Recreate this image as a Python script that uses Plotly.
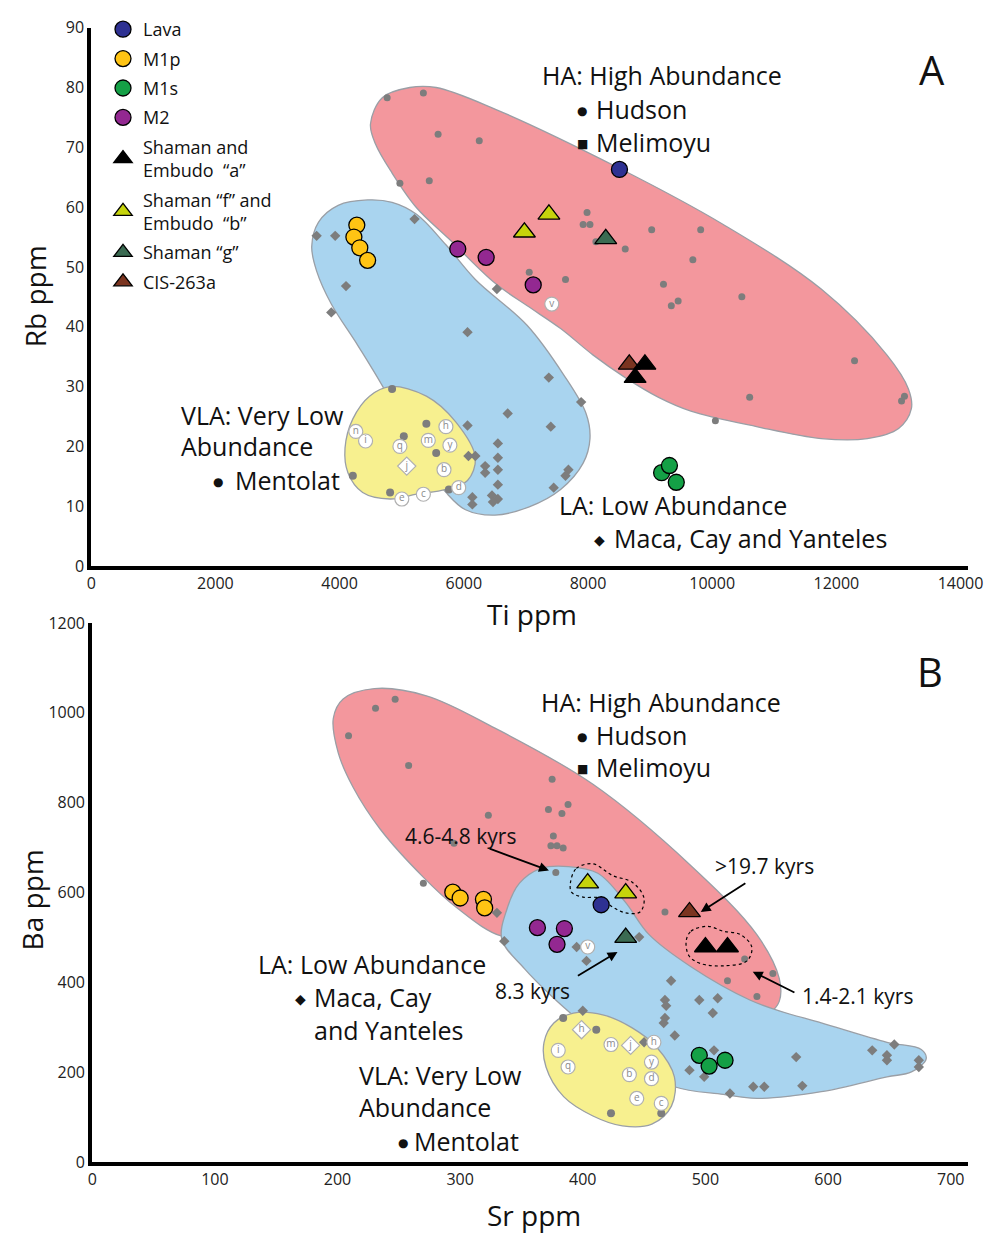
import plotly.graph_objects as go

W, H = 1001, 1243
FONT = "Open Sans"

# ================= Panel A : Ti ppm vs Rb ppm =================
# field envelopes (data units)
a_ha_ti = [4497, 4687, 5129, 5555, 6501, 8505, 10178, 11756, 12813, 13161, 13208, 13003, 12498,
           11756, 10715, 9657, 9137, 8600, 8079, 7559, 7022, 6501, 5760, 5239, 4845, 4576]
a_ha_rb = [73.9, 78.3, 80.0, 80.0, 76.4, 66.5, 57.1, 46.3, 35.3, 29.6, 26.3, 23.0, 21.3,
           21.3, 23.3, 25.9, 28.2, 31.5, 35.3, 39.7, 43.5, 47.3, 54.7, 59.9, 65.7, 70.6]
a_la_ti = [3551, 3661, 3977, 4450, 4845, 5239, 5712, 6186, 7022, 7606, 7969, 8032, 7922, 7559,
           7054, 6501, 6028, 5712, 5239, 4766, 4292, 3866, 3630]
a_la_rb = [53.4, 57.5, 60.3, 61.2, 60.8, 58.8, 53.7, 47.9, 40.2, 32.0, 25.5, 21.3, 17.2, 12.8,
           9.9, 8.5, 9.4, 12.3, 18.9, 28.7, 36.9, 43.8, 49.3]
a_vla_ti = [4813, 5397, 5870, 6186, 6060, 5712, 5239, 4813, 4371, 4134, 4087, 4213, 4482]
a_vla_rb = [30.0, 28.4, 24.1, 18.1, 14.3, 12.8, 12.0, 11.2, 12.3, 15.6, 19.7, 24.6, 28.4]

# reference data points (grey)
a_ha_pts_ti = [4766, 5349, 5586, 6249, 4971, 5444, 7985, 7922, 8032, 9026, 9815, 8600, 8127, 9689,
               9216, 9342, 9452, 10478, 12293, 10604, 10052, 13050, 13097, 7054, 7638]
a_ha_pts_rb = [78.3, 79.1, 72.2, 71.1, 64.0, 64.4, 59.1, 57.1, 57.1, 56.2, 56.2, 53.0, 54.2, 51.2,
               47.1, 43.5, 44.3, 45.0, 34.3, 28.2, 24.3, 27.6, 28.4, 49.1, 47.9]
a_la_pts_ti = [3630, 3929, 5207, 4103, 3866, 6533, 6060, 7369, 6707, 7401, 7890, 6060, 6549, 6549,
               6549, 6549, 6549, 6344, 6344, 7685, 7638, 7448, 6138, 6454, 6470, 6138, 6075, 6186]
a_la_pts_rb = [55.2, 55.2, 58.0, 46.8, 42.4, 46.3, 39.1, 31.5, 25.5, 23.3, 27.4, 23.5, 20.5, 18.1,
               16.1, 13.6, 11.2, 16.7, 15.6, 16.1, 15.1, 13.1, 11.5, 11.8, 10.7, 10.3, 18.4, 18.4]
a_vla_pts_ti = [4845, 5397, 5555, 5034, 4213, 4813, 5760]
a_vla_pts_rb = [29.6, 23.8, 18.9, 21.7, 15.1, 12.3, 12.8]
# labelled Mentolat samples
a_lab_txt = ["n", "i", "q", "m", "h", "y", "j", "b", "d", "e", "c", "v"]
a_lab_ti = [4261, 4418, 4971, 5428, 5712, 5776, 5081, 5681, 5918, 5002, 5349, 7417]
a_lab_rb = [22.5, 20.9, 20.0, 21.0, 23.3, 20.2, 16.7, 16.1, 13.1, 11.2, 12.0, 43.8]
a_lab_sym = ["circle"] * 6 + ["diamond"] + ["circle"] * 5

# study samples
a_lava_ti, a_lava_rb = [8507], [66.3]
a_m1p_ti, a_m1p_rb = [4277, 4230, 4325, 4451], [57.0, 55.0, 53.2, 51.1]
a_m1s_ti, a_m1s_rb = [9186, 9312, 9422], [15.6, 16.8, 14.0]
a_m2_ti, a_m2_rb = [5903, 6360, 7118], [53.0, 51.6, 47.0]
a_sa_ti, a_sa_rb = [8917, 8759], [33.7, 31.5]
a_sf_ti, a_sf_rb = [6976, 7371], [55.8, 58.8]
a_sg_ti, a_sg_rb = [8286], [54.7]
a_cis_ti, a_cis_rb = [8665], [33.7]

# ================= Panel B : Sr ppm vs Ba ppm =================
b_ha_sr = [196.6, 204.6, 230.1, 272.5, 328.4, 408.3, 488.2, 541.8, 560.2, 560.2, 552.2, 528.2,
           448.3, 368.4, 334.0, 296.5, 270.1, 234.9, 212.6, 200.6]
b_ha_ba = [988, 1031, 1054, 1038, 966, 841, 660, 507, 409, 358, 332, 310,
           420, 507, 503, 568, 634, 741, 835, 911]
b_la_sr = [334.0, 338.0, 348.4, 366.0, 388.4, 412.3, 434.7, 453.9, 488.2, 536.2, 560.2, 594.5,
           648.1, 676.0, 680.0, 668.0, 648.1, 594.5, 541.8, 514.6, 474.7, 434.7, 408.3, 376.4, 352.4]
b_la_ba = [496, 562, 621, 654, 658, 643, 579, 507, 435, 361, 337, 310,
           267, 251, 230, 201, 190, 157, 142, 151, 168, 230, 289, 365, 431]
b_vla_sr = [376.4, 392.4, 416.3, 440.3, 460.3, 474.7, 472.3, 456.3, 432.3, 408.3, 384.4, 370.0, 368.4]
b_vla_ba = [310, 332, 328, 299, 256, 190, 125, 85, 81, 103, 146, 212, 267]

b_ha_pts_sr = [231, 247, 209, 258, 323, 295, 270, 375, 372, 383, 388, 376, 374, 379, 384, 378,
               467, 518, 542, 532, 555]
b_ha_pts_ba = [1010, 1030, 949, 883, 772, 710, 621, 852, 785, 776, 796, 726, 704, 704, 699, 645,
               557, 404, 369, 452, 420]
b_la_pts_sr = [446, 395, 403, 336, 330, 472, 467, 468, 467, 466, 475, 495, 510, 506, 400, 450, 507,
               487, 499, 520, 539, 548, 574, 579, 636, 648, 648, 654, 674, 674]
b_la_pts_ba = [501, 479, 448, 492, 555, 404, 361, 348, 321, 310, 282, 361, 365, 332, 337, 267, 249,
               205, 190, 153, 168, 168, 234, 170, 249, 238, 227, 262, 227, 212]
b_vla_pts_sr = [384, 411, 423, 464]
b_vla_pts_ba = [321, 295, 109, 109]
b_lab_txt = ["h", "i", "q", "m", "j", "h", "y", "b", "d", "e", "c", "v"]
b_lab_sr = [399, 380, 388, 423, 439, 458, 456, 438, 456, 444, 464, 404]
b_lab_ba = [295, 249, 212, 262, 260, 267, 223, 195, 186, 142, 131, 479]
b_lab_sym = ["diamond", "circle", "circle", "circle", "diamond"] + ["circle"] * 7

b_lava_sr, b_lava_ba = [415], [573]
b_m1p_sr, b_m1p_ba = [294, 300, 319, 320], [601, 588, 585, 566]
b_m1s_sr, b_m1s_ba = [495, 503, 516], [238, 214, 227]
b_m2_sr, b_m2_ba = [363, 385, 379], [522, 520, 485]
b_sa_sr, b_sa_ba = [500, 518], [479, 479]
b_sf_sr, b_sf_ba = [404, 435], [621, 599]
b_sg_sr, b_sg_ba = [435], [500]
b_cis_sr, b_cis_ba = [487], [557]

# dashed age groupings in panel B
loop1_sr = [390.0, 394.8, 408.3, 424.3, 440.3, 449.9, 446.7, 434.7, 424.3, 413.9, 400.3, 390.8]
loop1_ba = [623, 654, 664, 638, 623, 588, 557, 555, 568, 588, 590, 601]
loop2_sr = [484.3, 488.2, 501.8, 514.6, 528.2, 537.8, 533.8, 514.6, 496.2, 486.7]
loop2_ba = [492, 514, 525, 514, 507, 479, 448, 437, 442, 459]

# age annotations: label, text pos, arrow tail, arrow head
ages = [
    ("4.6-4.8 kyrs", 300.5, 726, 322.8, 699, 372.4, 649),
    ("8.3 kyrs", 358.8, 380, 394.8, 413, 428.3, 468),
    (">19.7 kyrs", 548.2, 660, 533.8, 623, 496.2, 557),
    ("1.4-2.1 kyrs", 624.1, 369, 573.8, 376, 538.6, 424),
]

RED, BLUE, YEL = "#f3979d", "#a9d4ef", "#f7f08f"
EDGE = "#9a9fa6"
GREY = "#7d7d7d"

samples = [
    ("Lava", "circle", "#2e3192", 16, 1),
    ("M1p", "circle", "#ffc414", 16, 2),
    ("M1s", "circle", "#14a046", 16, 3),
    ("M2", "circle", "#932891", 16, 4),
    ("Shaman and<br>Embudo  “a”", "triangle-up", "#000000", 19, 5),
    ("Shaman “f” and<br>Embudo  “b”", "triangle-up", "#c6d40c", 19, 6),
    ("Shaman “g”", "triangle-up", "#3b6b52", 19, 7),
    ("CIS-263a", "triangle-up", "#7b3420", 19, 8),
]
a_vals = {"Lava": (a_lava_ti, a_lava_rb), "M1p": (a_m1p_ti, a_m1p_rb), "M1s": (a_m1s_ti, a_m1s_rb),
          "M2": (a_m2_ti, a_m2_rb), samples[4][0]: (a_sa_ti, a_sa_rb), samples[5][0]: (a_sf_ti, a_sf_rb),
          samples[6][0]: (a_sg_ti, a_sg_rb), "CIS-263a": (a_cis_ti, a_cis_rb)}
b_vals = {"Lava": (b_lava_sr, b_lava_ba), "M1p": (b_m1p_sr, b_m1p_ba), "M1s": (b_m1s_sr, b_m1s_ba),
          "M2": (b_m2_sr, b_m2_ba), samples[4][0]: (b_sa_sr, b_sa_ba), samples[5][0]: (b_sf_sr, b_sf_ba),
          samples[6][0]: (b_sg_sr, b_sg_ba), "CIS-263a": (b_cis_sr, b_cis_ba)}
draw_order = ["Lava", "M1p", "M1s", "M2", samples[5][0], samples[6][0], "CIS-263a", samples[4][0]]

fig = go.Figure()


def region(x, y, color, xa, ya):
    fig.add_trace(go.Scatter(x=x + x[:1], y=y + y[:1], mode="lines", fill="toself", fillcolor=color,
                             line=dict(color=EDGE, width=1.3, shape="spline", smoothing=1.0),
                             xaxis=xa, yaxis=ya, showlegend=False, hoverinfo="skip"))


def pts(x, y, sym, xa, ya, size=7):
    fig.add_trace(go.Scatter(x=x, y=y, mode="markers", xaxis=xa, yaxis=ya, showlegend=False,
                             marker=dict(symbol=sym, size=size, color=GREY), hoverinfo="skip"))


def labels(x, y, t, sym, xa, ya):
    fig.add_trace(go.Scatter(x=x, y=y, mode="markers+text", text=t, textposition="middle center",
                             textfont=dict(size=10, color="#8a8a8a", family=FONT),
                             marker=dict(symbol=sym, size=14, color="white",
                                         line=dict(color="#b0b0b0", width=1.2)),
                             xaxis=xa, yaxis=ya, showlegend=False, hoverinfo="skip"))


# Panel A
region(a_ha_ti, a_ha_rb, RED, "x", "y")
region(a_la_ti, a_la_rb, BLUE, "x", "y")
region(a_vla_ti, a_vla_rb, YEL, "x", "y")
pts(a_ha_pts_ti, a_ha_pts_rb, "circle", "x", "y")
pts(a_la_pts_ti, a_la_pts_rb, "diamond", "x", "y", 8)
pts(a_vla_pts_ti, a_vla_pts_rb, "circle", "x", "y", 8)
labels(a_lab_ti, a_lab_rb, a_lab_txt, a_lab_sym, "x", "y")

# Panel B
region(b_ha_sr, b_ha_ba, RED, "x2", "y2")
region(b_la_sr, b_la_ba, BLUE, "x2", "y2")
region(b_vla_sr, b_vla_ba, YEL, "x2", "y2")
pts(b_ha_pts_sr, b_ha_pts_ba, "circle", "x2", "y2")
pts(b_la_pts_sr, b_la_pts_ba, "diamond", "x2", "y2", 8)
pts(b_vla_pts_sr, b_vla_pts_ba, "circle", "x2", "y2", 8)
labels(b_lab_sr, b_lab_ba, b_lab_txt, b_lab_sym, "x2", "y2")
for lx, ly in [(loop1_sr, loop1_ba), (loop2_sr, loop2_ba)]:
    fig.add_trace(go.Scatter(x=lx + lx[:1], y=ly + ly[:1], mode="lines", xaxis="x2", yaxis="y2",
                             line=dict(color="black", width=1.2, dash="dot", shape="spline"),
                             showlegend=False, hoverinfo="skip"))

info = {s[0]: s for s in samples}
for name in draw_order:
    _, sym, col, size, rank = info[name]
    ax_, ay_ = a_vals[name]
    fig.add_trace(go.Scatter(x=ax_, y=ay_, mode="markers", name=name, legendrank=rank,
                             legendgroup=name, xaxis="x", yaxis="y",
                             marker=dict(symbol=sym, size=size, color=col, line=dict(color="black", width=1.3))))
    bx_, by_ = b_vals[name]
    fig.add_trace(go.Scatter(x=bx_, y=by_, mode="markers", name=name, showlegend=False,
                             legendgroup=name, xaxis="x2", yaxis="y2",
                             marker=dict(symbol=sym, size=size, color=col, line=dict(color="black", width=1.3))))

ann = []


def txt(px, py, s, size=25, xanchor="left"):
    ann.append(dict(x=px / W, y=1 - py / H, xref="paper", yref="paper", text=s, showarrow=False,
                    xanchor=xanchor, yanchor="middle", font=dict(size=size, color="#111", family=FONT)))


def bullet(px, py, ch, size):
    ann.append(dict(x=px / W, y=1 - py / H, xref="paper", yref="paper", text=ch, showarrow=False,
                    xanchor="center", yanchor="middle",
                    font=dict(size=size, color="#111", family="DejaVu Sans")))


# Panel A texts
txt(946, 60, "A", 40, "center")
txt(546, 65, "HA: High Abundance")
bullet(589, 102, "●", 12)
txt(601, 100, "Hudson")
bullet(589, 135, "■", 12)
txt(601, 133, "Melimoyu")
txt(178, 411, "VLA: Very Low")
txt(178, 443, "Abundance")
bullet(217, 479, "●", 12)
txt(233, 477, "Mentolat")
txt(563, 503, "LA: Low Abundance")
bullet(607, 539, "◆", 14)
txt(619, 537, "Maca, Cay and Yanteles")
# Panel B texts
txt(944, 672, "B", 40, "center")
txt(545, 703, "HA: High Abundance")
bullet(589, 739, "●", 12)
txt(601, 737, "Hudson")
bullet(589, 772, "■", 12)
txt(601, 770, "Melimoyu")
txt(256, 970, "LA: Low Abundance")
bullet(302, 1006, "◆", 14)
txt(313, 1004, "Maca, Cay")
txt(313, 1037, "and Yanteles")
txt(359, 1083, "VLA: Very Low")
txt(359, 1116, "Abundance")
bullet(406, 1152, "●", 12)
txt(415, 1150, "Mentolat")
# axis titles
txt(538, 614, "Ti ppm", 28, "center")
txt(540, 1226, "Sr ppm", 28, "center")
ann.append(dict(x=30 / W, y=1 - 290 / H, xref="paper", yref="paper", text="Rb ppm", textangle=-90,
                xanchor="center", yanchor="middle",
                showarrow=False, font=dict(size=28, color="#111", family=FONT)))
ann.append(dict(x=28 / W, y=1 - 905 / H, xref="paper", yref="paper", text="Ba ppm", textangle=-90,
                xanchor="center", yanchor="middle",
                showarrow=False, font=dict(size=28, color="#111", family=FONT)))

for label, tx, ty, x0, y0, x1, y1 in ages:
    ann.append(dict(x=tx, y=ty, xref="x2", yref="y2", text=label, showarrow=False,
                    font=dict(size=21, color="#111", family=FONT)))
    ann.append(dict(x=x1, y=y1, ax=x0, ay=y0, xref="x2", yref="y2", axref="x2", ayref="y2", text="",
                    showarrow=True, arrowhead=2, arrowsize=1.1, arrowwidth=1.8, arrowcolor="black"))

axis_common = dict(showgrid=False, zeroline=False, showline=True, linecolor="black", linewidth=4,
                   ticks="", tickfont=dict(size=16, color="#222", family=FONT), tickformat="d")

fig.update_layout(
    width=W, height=H, margin=dict(l=0, r=0, t=0, b=0),
    paper_bgcolor="white", plot_bgcolor="white",
    font=dict(family=FONT),
    xaxis=dict(domain=[88 / W, 983 / W], range=[0, 14126], dtick=2000, anchor="y", **axis_common),
    yaxis=dict(domain=[1 - 565 / H, 1 - 17 / H], range=[0, 90], dtick=10, anchor="x", **axis_common),
    xaxis2=dict(domain=[89 / W, 983 / W], range=[0, 714.4], dtick=100, anchor="y2", **axis_common),
    yaxis2=dict(domain=[1 - 1172 / H, 1 - 623 / H], range=[0, 1200], dtick=200, anchor="x2", **axis_common),
    legend=dict(x=100 / W, y=1.0, xanchor="left", yanchor="top", bgcolor="rgba(0,0,0,0)",
                font=dict(size=18, color="#111", family=FONT), tracegroupgap=3, itemsizing="trace"),
    annotations=ann,
    showlegend=True,
)

fig.write_html("out.html")
